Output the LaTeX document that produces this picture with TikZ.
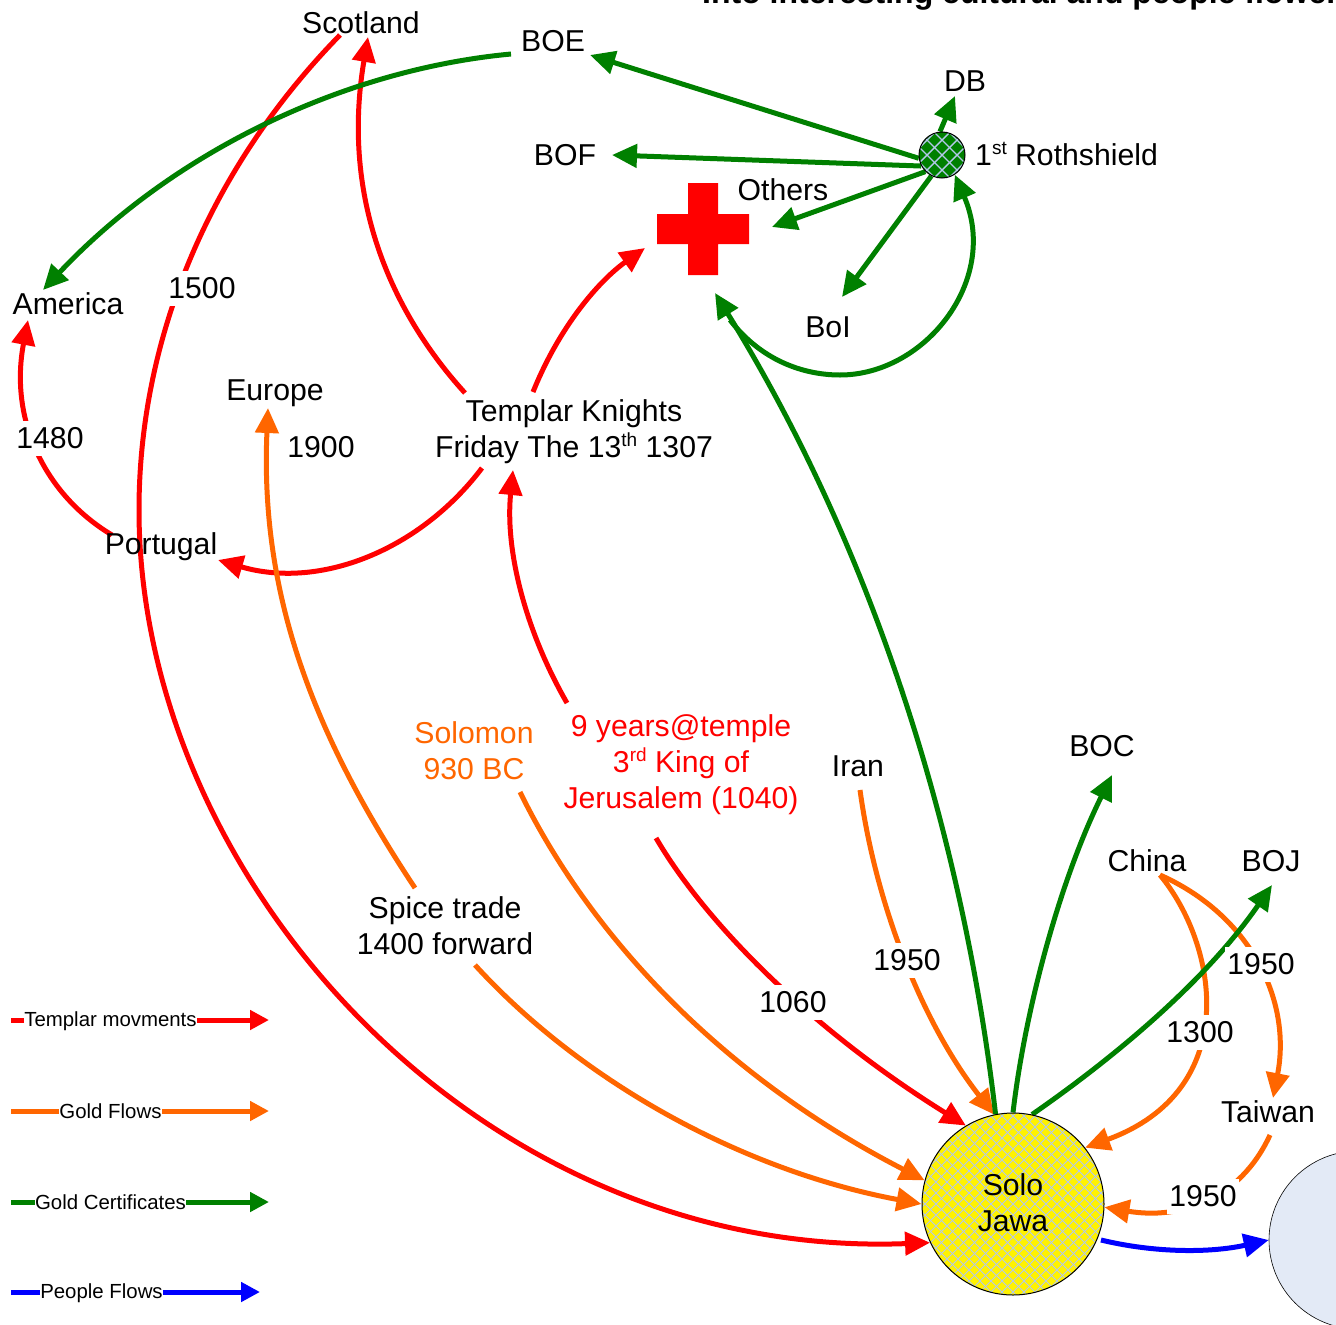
\documentclass[tikz,border=0pt]{standalone}
\usepackage{fontspec}
\setmainfont{Liberation Sans}
\usetikzlibrary{arrows.meta,backgrounds,calc}
\definecolor{flowred}{HTML}{FF0000}
\definecolor{floworange}{HTML}{FF6600}
\definecolor{flowgreen}{HTML}{008000}
\definecolor{flowblue}{HTML}{0000FF}
\definecolor{hatch}{HTML}{B4C8EA}
\definecolor{paleblue}{HTML}{E3EAF6}
\newcommand{\supr}[1]{\raisebox{11pt}{\fontsize{19}{19}\selectfont #1}}
\tikzset{
  lbl/.style={inner sep=0pt,align=center,font=\fontsize{30.2}{36}\selectfont,text=black},
  yr/.style={lbl,fill=white,inner xsep=2pt,minimum height=35pt},
  leg/.style={inner sep=0.5pt,fill=white,font=\fontsize{20.4}{25}\selectfont,text=black},
  flow/.style={line width=5pt,-{Triangle[length=25pt,width=23pt]}},
  redflow/.style={flow,draw=flowred},
  orangeflow/.style={flow,draw=floworange},
  greenflow/.style={flow,draw=flowgreen},
  blueflow/.style={flow,draw=flowblue},
  legflow/.style={line width=5pt,-{Triangle[length=19pt,width=19pt]}},
}
\begin{document}
\begin{tikzpicture}[x=1pt,y=-1pt]
\useasboundingbox (0,0) rectangle (1336,1325);
% round nodes
\node[circle,draw=black,line width=0.6pt,fill=paleblue,minimum size=178pt,inner sep=0pt] (other) at (1358,1240) {};
\node[circle,draw=black,line width=1pt,fill=yellow,minimum size=182pt,inner sep=0pt,
  path picture={\foreach \k in {-30,...,30}{
    \draw[hatch,line width=0.8pt] ($(path picture bounding box.center)+(\k*11-300,-300)$) -- ++(600,600);
    \draw[hatch,line width=0.8pt] ($(path picture bounding box.center)+(\k*11+300,-300)$) -- ++(-600,600);}}
  ] (solo) at (1013,1204) {};
\node[lbl] (solotxt) at (1013,1203) {Solo\\Jawa};
\node[circle,draw=black,line width=1pt,fill=flowgreen,minimum size=46pt,inner sep=0pt,
  path picture={\foreach \k in {-12,...,12}{
    \draw[hatch,line width=1.4pt] ($(path picture bounding box.center)+(\k*15-100,-100)$) -- ++(200,200);
    \draw[hatch,line width=1.4pt] ($(path picture bounding box.center)+(\k*15+100,-100)$) -- ++(-200,200);}}
  ] (roth) at (942,155) {};
% cross
\fill[flowred] (688,183) rectangle (718,275) (657,214) rectangle (749,244);
\coordinate (cross) at (703,229);
% labels
\node[lbl] (scot) at (361,23) {Scotland};
\node[lbl] (boe) at (553,41) {BOE};
\node[lbl] (db) at (965,81) {DB};
\node[lbl] (bof) at (565,155) {BOF};
\node[lbl,anchor=base west] (rothtxt) at (975,165) {1\supr{st} Rothshield};
\node[lbl] (others) at (783,190) {Others};
\node[lbl] (boi) at (828,327) {BoI};
\node[lbl] (america) at (68,304) {America};
\node[lbl] (europe) at (275,393) {Europe};
\node[lbl] (templar) at (574,432) {Templar Knights\\Friday The 13\supr{th} 1307};
\node[lbl] (portugal) at (161,547) {Portugal};
\node[lbl,text=floworange] (solomon) at (474,751) {Solomon\\930 BC};
\node[lbl,text=flowred] (nine) at (681,765) {9 years@temple\\3\supr{rd} King of\\Jerusalem (1040)};
\node[lbl] (iran) at (858,766) {Iran};
\node[lbl] (boc) at (1102,746) {BOC};
\node[lbl] (china) at (1147,861) {China};
\node[lbl] (boj) at (1271,861) {BOJ};
\node[lbl] (spice) at (445,926) {Spice trade\\1400 forward};
\node[lbl] (taiwan) at (1268,1112) {Taiwan};
\node[lbl,font=\bfseries\fontsize{32}{36}\selectfont,anchor=base west] (title) at (702,4) {Into interesting cultural and people flowers};
% year labels
\node[yr] (y1500) at (202,288) {1500};
\node[yr] (y1480) at (50,438) {1480};
\node[yr] (y1900) at (321,447) {1900};
\node[yr] (y1060) at (793,1002) {1060};
\node[yr] (y1950a) at (907,960) {1950};
\node[yr] (y1950b) at (1261,964) {1950};
\node[yr] (y1300) at (1200,1032) {1300};
\node[yr] (y1950c) at (1203,1196) {1950};
% legend
\coordinate (l1a) at (11,1020); \coordinate (l1b) at (269,1020);
\coordinate (l2a) at (11,1111); \coordinate (l2b) at (269,1111);
\coordinate (l3a) at (11,1202); \coordinate (l3b) at (269,1202);
\coordinate (l4a) at (11,1292); \coordinate (l4b) at (260,1292);
\node[leg] (leg1) at (110.5,1021) {Templar movments};
\node[leg] (leg2) at (110.5,1111) {Gold Flows};
\node[leg] (leg3) at (110.5,1202) {Gold Certificates};
\node[leg] (leg4) at (101.5,1293) {People Flows};
% free ends
\coordinate (a1) at (340,35);
\coordinate (a2) at (368,37);
\coordinate (a3) at (465,393);
\coordinate (a4) at (533,392);
\coordinate (a5) at (645,248);
\coordinate (a6) at (482,468);
\coordinate (a7) at (218,560);
\coordinate (a8) at (112,535);
\coordinate (a9) at (28,320);
\coordinate (a10) at (567,703);
\coordinate (a11) at (513,470);
\coordinate (a12) at (656,838);
\coordinate (b1) at (860,790);
\coordinate (b2) at (268,408);
\coordinate (b3) at (415,888);
\coordinate (b4) at (475,965);
\coordinate (b5) at (520,792);
\coordinate (b6) at (1160,875);
\coordinate (b7) at (1273,1098);
\coordinate (b8) at (1270,1135);
\coordinate (c1) at (590,55);
\coordinate (c2) at (612,155);
\coordinate (c3) at (955,96);
\coordinate (c4) at (772,227);
\coordinate (c5) at (842,297);
\coordinate (c6) at (511,54);
\coordinate (c7) at (43,290);
\coordinate (c8) at (715,293);
\coordinate (c9) at (730,320);
\coordinate (c10) at (1112,775);
\coordinate (c11) at (1272,885);
\coordinate (s1) at (1101,1240);
\begin{scope}[on background layer]
% legend lines
\draw[legflow,draw=flowred] (l1a) -- (l1b);
\draw[legflow,draw=floworange] (l2a) -- (l2b);
\draw[legflow,draw=flowgreen] (l3a) -- (l3b);
\draw[legflow,draw=flowblue] (l4a) -- (l4b);
% red
\draw[redflow] (a1) .. controls (208,170) and (139,340) .. (139,510) .. controls (139,880) and (480,1260) .. (solo.205);
\draw[redflow] (a3) .. controls (385,305) and (342,190) .. (a2);
\draw[redflow] (a4) .. controls (560,325) and (600,280) .. (a5);
\draw[redflow] (a6) .. controls (420,550) and (320,590) .. (a7);
\draw[redflow] (a8) .. controls (45,495) and (9,420) .. (a9);
\draw[redflow] (a10) .. controls (525,630) and (505,550) .. (a11);
\draw[redflow] (a12) .. controls (710,930) and (820,1035) .. (solo.121);
% orange
\draw[orangeflow] (b1) .. controls (875,900) and (920,1020) .. (solo.102);
\draw[orangeflow] (b3) .. controls (310,730) and (260,590) .. (b2);
\draw[orangeflow] (b4) .. controls (580,1080) and (740,1170) .. (solo.180);
\draw[orangeflow] (b5) .. controls (590,935) and (720,1075) .. (solo.165);
\draw[orangeflow] (b6) .. controls (1218,945) and (1243,1090) .. (solo.38);
\draw[orangeflow] (b6) .. controls (1250,915) and (1292,1000) .. (b7);
\draw[orangeflow] (b8) .. controls (1240,1200) and (1180,1220) .. (solo.358);
% green
\draw[greenflow] (roth.95) -- (c3);
\draw[greenflow] (roth.225) -- (c4);
\draw[greenflow] (roth.243) -- (c5);
\draw[greenflow] (roth.208) -- (c2);
\draw[greenflow] (roth.188) -- (c1);
\draw[greenflow] (c6) .. controls (340,70) and (170,155) .. (c7);
\draw[greenflow] (solo.101) .. controls (965,850) and (880,560) .. (c8);
\draw[greenflow] (c9) .. controls (765,365) and (810,375) .. (840,375) .. controls (925,375) and (1000,280) .. (roth.303);
\draw[greenflow] (solo.90) .. controls (1025,1010) and (1060,880) .. (c10);
\draw[greenflow] (solo.78) .. controls (1125,1050) and (1210,975) .. (c11);
% blue
\draw[blueflow] (s1) .. controls (1155,1253) and (1210,1253) .. (other.west);
\end{scope}
\end{tikzpicture}
\end{document}
